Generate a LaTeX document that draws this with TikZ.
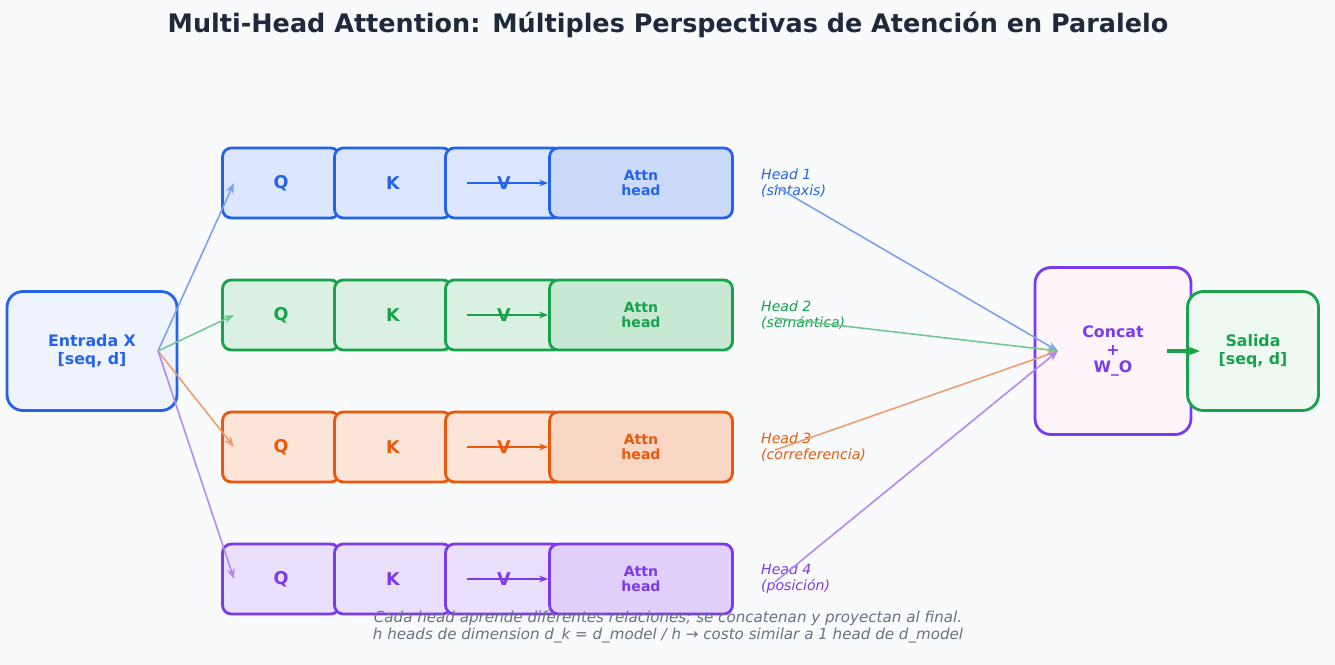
\documentclass[tikz,border=0pt]{standalone}
\usepackage{fontspec}
\setmainfont{DejaVu Sans}
\usetikzlibrary{arrows.meta}
\definecolor{bgcolor}{HTML}{F8FAFC}
\definecolor{titlecolor}{HTML}{1E293B}
\definecolor{notecolor}{HTML}{6B7280}
\definecolor{cblue}{HTML}{2563EB}
\definecolor{cgreen}{HTML}{16A34A}
\definecolor{corange}{HTML}{EA580C}
\definecolor{cpurple}{HTML}{7C3AED}
\tikzset{
  box/.style={draw=#1,fill=#1!16!white,line width=1.6pt,rounded corners=5pt,
    text=#1,font=\bfseries\fontsize{10}{10}\selectfont,minimum height=1.4cm},
  attnbox/.style={box=#1,fill=#1!24!white,font=\bfseries\fontsize{8}{9}\selectfont,
    align=center,minimum width=3.66cm},
  qkv/.style={box=#1,minimum width=2.34cm},
  headlbl/.style={text=#1,font=\itshape\fontsize{8}{9}\selectfont,align=left,anchor=west},
  link/.style={-{Stealth[length=6pt]},draw=#1!60!white,line width=0.9pt},
}
\begin{document}
\begin{tikzpicture}[x=0.02cm,y=-0.02cm]
  \fill[bgcolor] (0,0) rectangle (1335,665);
  \useasboundingbox (0,0) rectangle (1335,665);
  \node[text=titlecolor,font=\bfseries\fontsize{14.5}{16}\selectfont] (title) at (668,25)
    {Multi-Head Attention: Múltiples Perspectivas de Atención en Paralelo};
  % input and output
  \node[box=cblue,fill=cblue!8!white,rounded corners=9pt,minimum width=3.4cm,minimum height=2.38cm,
    align=center,font=\bfseries\fontsize{9}{10}\selectfont] (input) at (92,351) {Entrada X\\{[}seq, d{]}};
  \node[box=cpurple,fill=magenta!4!white,rounded corners=9pt,minimum width=3.12cm,minimum height=3.34cm,
    align=center,font=\bfseries\fontsize{9}{10}\selectfont] (concat) at (1113,351) {Concat\\+\\W\_O};
  \node[box=cgreen,fill=cgreen!7!white,rounded corners=9pt,minimum width=2.62cm,minimum height=2.38cm,
    align=center,font=\bfseries\fontsize{9}{10}\selectfont] (output) at (1253,351) {Salida\\{[}seq, d{]}};
  \coordinate (infrom) at (158,351);
  \coordinate (concatin) at (1058,351);
  \coordinate (concatout) at (1167,351);
  \coordinate (outin) at (1200,351);
  \draw[-{Stealth[length=7pt]},cgreen,line width=2pt] (concatout) -- (outin);
  % heads
  \foreach \i/\c/\y/\role in {1/cblue/183/sintaxis,2/cgreen/315/semántica,
      3/corange/447/correferencia,4/cpurple/579/posición}{
    \node[qkv=\c] (q\i) at (281,\y) {Q};
    \node[qkv=\c] (k\i) at (393,\y) {K};
    \node[qkv=\c] (v\i) at (504,\y) {V};
    \node[attnbox=\c] (attn\i) at (641,\y) {Attn\\head};
    \coordinate (vs\i) at (467,\y);
    \draw[-{Stealth[length=5pt]},\c,line width=1pt] (vs\i) -- (attn\i.west);
    \node[headlbl=\c] (lbl\i) at (755,\y) {Head \i\\(\role)};
    \coordinate (qin\i) at (234,\y);
    \draw[link=\c] (infrom) -- (qin\i);
    \coordinate (lout\i) at (775,\y+3);
    \draw[link=\c] (lout\i) -- (concatin);
  }
  \node[text=notecolor,font=\itshape\fontsize{8.6}{10}\selectfont,align=center] (note) at (668,627)
    {Cada head aprende diferentes relaciones; se concatenan y proyectan al final.\\
     h heads de dimension d\_k = d\_model / h → costo similar a 1 head de d\_model};
\end{tikzpicture}
\end{document}
